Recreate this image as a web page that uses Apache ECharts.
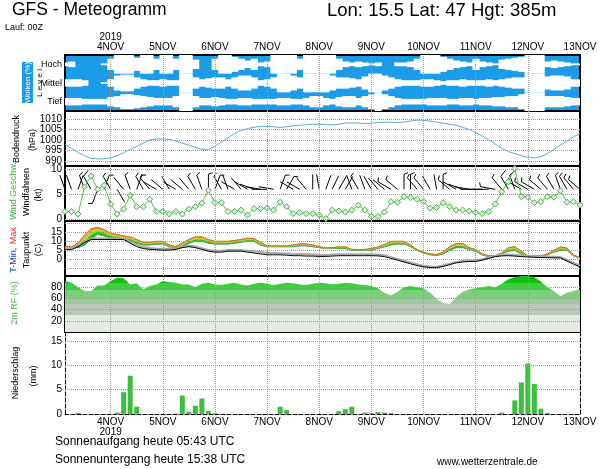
<!DOCTYPE html>
<html><head><meta charset="utf-8">
<script src="https://cdn.jsdelivr.net/npm/echarts@6/dist/echarts.min.js"></script>
<style>html,body{margin:0;padding:0;background:#fff}#c{width:600px;height:469px}</style>
</head><body><div id="c"></div>
<script>
// forecast hours after 3NOV2019 00Z (3-hourly)
const hours = [3,6,9,12,15,18,21,24, 27,30,33,36,39,42,45,48, 51,54,57,60,63,66,69,72, 75,78,81,84,87,90,93,96,
  99,102,105,108,111,114,117,120, 123,126,129,132,135,138,141,144, 147,150,153,156,159,162,165,168,
  171,174,177,180,183,186,189,192, 195,198,201,204,207,210,213,216, 219,222,225,228,231,234,237,240];
const dayTicks = [24,48,72,96,120,144,168,192,216,240];
const dayNames = ['4NOV','5NOV','6NOV','7NOV','8NOV','9NOV','10NOV','11NOV','12NOV','13NOV'];

// cloud cover (%) high / mid / low
const cloudHigh = [20,30,0,0,0,0,10,60, 100,100,100,70,100,100,60,100, 100,60,100,100,50,0,0,60,
  100,100,80,60,40,60,20,30, 100,100,100,100,60,100,100,100, 100,100,60,30,20,30,20,10,
  20,0,0,20,20,30,60,100, 100,100,80,60,40,30,20,60, 30,20,10,50,60,70,80,100, 100,100,30,40,30,20,10,10];
const cloudMid = [40,40,40,30,0,0,10,40, 80,90,90,60,40,30,30,40, 30,30,100,100,60,40,50,60,
  60,40,60,80,80,60,30,40, 60,100,100,80,60,100,100,100, 100,80,60,60,50,40,70,100,
  100,80,60,40,30,30,30,40, 40,30,20,30,30,40,30,30, 30,40,30,40,50,60,60,100, 100,100,70,80,80,70,40,40];
const cloudLow = [40,40,40,30,30,30,30,50, 60,80,80,70,60,50,40,40, 40,60,100,100,60,40,40,50,
  40,30,30,40,40,30,30,30, 30,40,40,30,30,40,60,60, 40,30,50,60,60,40,60,80,
  100,80,60,40,30,30,30,30, 40,40,40,30,30,40,40,30, 40,40,50,50,60,60,80,100, 100,100,60,60,60,50,40,40];

// surface pressure (hPa)
const pressure = [998,996,994,992.5,991.2,991,991,991.5, 992.5,994,995.5,997,998.5,1000,1000.5,1000.5,
  1000.3,999.5,998.5,997.5,996.5,995.5,995.5,997, 999,1001,1003,1004.5,1005.5,1006,1006.5,1006.5,
  1006.3,1006,1006.3,1006.8,1007,1007.3,1007.5,1007.5, 1007.3,1007.2,1007.5,1008,1008.2,1008,1007.8,1008,
  1008.3,1008.5,1008.5,1008.3,1008.5,1009,1009.5,1009.3, 1009,1008.5,1008,1007.5,1007,1006,1005,1003.5,
  1002,1000,998,996,994.5,993.5,992.5,991.8, 991.5,992,993.5,995.5,997.5,999.5,1001.5,1003];

// wind speed (kt) and direction (deg, from)
const windSpeed = [1.5,1.5,1.0,6.5,8.7,6.0,6.8,3.0, 1.0,2.0,4.8,2.5,2.5,4.0,1.5,1.5,
  1.0,1.5,1.0,2.0,2.5,3.2,5.8,3.3, 3.3,1.5,1.5,1.8,0.8,2.1,2.1,2.2,
  1.8,3.4,2.5,1.1,1.3,1.1,1.1,0.8, 0.1,1.8,1.6,1.4,1.8,2.8,1.8,0.5,
  0.5,1.4,3.5,3.4,4.5,4.3,4.0,3.5, 2.2,2.3,3.3,2.5,1.8,1.8,1.6,1.3,
  1.1,1.5,3.0,5.5,7.5,10.2,4.5,4.4, 3.3,3.5,4.5,4.4,5.7,3.4,3.5,2.8];
const windDir = [340,340,20,340,330,200,20,330, 150,320,340,20,330,320,300,310,
  330,300,310,320,330,340,0,20, 330,340,300,320,300,290,280,270,
  280,20,30,300,300,320,0,350, 20,25,30,30,340,330,340,330,
  320,310,300,310,0,0,320,320, 330,350,0,310,300,290,280,270,
  270,270,280,320,330,340,300,300, 300,310,320,330,340,330,320,310];

// temperature (C)
const tMax = [7,7,9,13.5,17,17.8,16.5,14.5, 13.8,13,12.5,11,9.5,9.5,10,10, 8,7,9,11,12.5,12.5,11,10,
  10,10,10.5,11,11.8,11.5,9.5,7.5, 7.5,7.5,7.5,8,8.6,8.5,8,7, 6.3,6.5,6.9,6.9,5.5,5.4,5.5,6,
  6.9,8.2,10,10,10,8,5.4,4, 3,2.6,4,7,8.8,8.8,6.5,5.4, 3,1.9,2,3.5,6.5,7,4.5,1.9, 1.9,2,3,5,6.9,6.3,2.5,0.8];
const tMin = [6.5,6.5,6.5,8,11,14,13,12, 11.5,11,10.5,9,8,8,8.5,8.5, 7,6.5,7,9,10,10,9,8.5,
  8.5,8.5,9,9.5,10,10,8,7, 7,7,7,7,7.5,7.5,7,6.5, 6,6,6,6,5,5,5,5,
  6,7,8,8.5,8.5,7,5,3.5, 2.5,2.2,3,5,6.5,6.5,5.5,4.5, 2.5,1.5,1.5,3,4.5,5,3,1.5, 1.5,1.5,2.5,4,5,5,2,0.5];
const tGray = [6.3,6.3,7.5,10,11.5,11.5,11.5,11.5, 11.5,11.5,10,8,6.8,6.3,6,5.8, 5.8,6.2,7,7.6,7.2,6.2,5.2,4.8,
  4.8,5.2,5.2,5.2,4.8,4.4,4,3.5, 3.5,3.4,3.2,3,2.9,2.8,2.6,2.4, 2.4,2.6,2.8,2.8,2.8,2.8,2.8,2.8,
  2.6,2.2,1.2,0.2,-0.8,-1.8,-2.8,-3.6, -4,-4.2,-3.5,-2.5,-1.5,-1,-0.7,-0.6, 0,1,2,2.5,2.6,2.4,2.1,1.9, 1.7,1.6,1.5,1.4,1.3,-0.4,-2,-3.6];
const dewPoint = [5.4,5.4,7,9.5,11,11,11,11, 11,11,9,7,6,5.5,5.3,5.1, 5.1,5.5,6.5,7,6.5,5.5,4.5,4,
  4,4.5,4.5,4.5,4,3.5,3,2.5, 2.5,2.5,2.3,2,2,1.8,1.8,1.6, 1.6,1.8,2,2,2,2,2,2,
  1.9,1.5,0.5,-0.5,-1.5,-2.5,-3.5,-4.2, -4.6,-4.7,-4,-3,-2,-1.5,-1.2,-1.2, -0.5,0.5,1.5,1.9,2,1.8,1.5,1.3, 1.1,1.0,0.9,0.8,0.7,-1,-2.7,-4.3];

// relative humidity 2m (%)
const rh = [91,88,80,73,73,83,83,91, 97,96,85,87,76,82,85,91, 89,88,85,85,80,86,88,85,
  84,86,88,85,83,86,88,86, 84,86,88,87,85,84,86,88, 87,85,86,88,87,85,84,82,
  78,70,65,72,80,82,80,78, 70,60,52,50,62,72,76,78, 80,82,80,86,94,98,100,100, 98,90,80,73,64,70,73,76];

// precipitation (mm / 3h)
const precip = [0,0,0.2,0,0,0,0,0, 0.3,4.5,7.9,1.5,0,0,0,0, 0,0.1,3.8,0.5,1.7,3.2,0.6,0.2,
  0,0,0,0,0,0,0,0, 0,1.5,0.8,0,0,0,0,0, 0,0,0.6,1.0,1.5,0,0.3,0.2,
  0.4,0.3,0.2,0,0,0,0,0, 0,0,0,0,0,0,0,0, 0,0,0,0.3,0,2.8,6.5,10.4, 6.2,1.1,0.2,0,0,0,0,0];

const pTicks = [990,995,1000,1005,1010];
const wTicks = [0,5,10];
const tTicks = [-5,0,5,10,15,20];
const rhTicks = [20,40,60,80];
const prTicks = [0,5,10,15];

const FONT = 'Liberation Sans';
const L = 65, R = 20;
const panels = [
  {top:55, h:56}, {top:111, h:55}, {top:166, h:55}, {top:221, h:55}, {top:276, h:56}, {top:332, h:82}
];
const grids = panels.map((p,i)=>({left:L, right:R, top:p.top, height:p.h, show:i<5,
  borderColor:'#000', borderWidth:2, backgroundColor: i===0 ? '#1c9ce8' : 'transparent', z:0}));

function dayLabel(v, top){
  const k = dayTicks.indexOf(v);
  const n = dayNames[k];
  if (v===24) return top ? '2019\n'+n : n+'\n2019';
  return n;
}
const xAxes = panels.map((p,i)=>({gridIndex:i, type:'value', min:3, max:240,
  position: i===0 ? 'top' : 'bottom',
  axisLine:{show:i===5, lineStyle:{color:'#000', type:'dashed', width:1}},
  axisTick:{show:false}, splitLine:{show:false},
  axisLabel:{show:i===0||i===5, customValues:dayTicks, fontFamily:FONT, fontSize:10, color:'#000',
    margin:3, lineHeight:10, formatter:(v)=>dayLabel(v, i===0)}}));

function yax(i, min, max, ticks){
  return {gridIndex:i, type:'value', min:min, max:max, splitLine:{show:false},
    axisLine:{show:false}, axisTick:{show:false},
    axisLabel:{show:!!ticks, customValues:ticks||[], fontFamily:FONT, fontSize:10, color:'#000', margin:3,
      formatter:(v)=>String(v)}};
}
const yAxes = [
  yax(0,0,3,null), yax(1,987.6,1013.8,pTicks), yax(2,-0.4,10.7,wTicks), yax(3,-9.3,21.3,tTicks),
  yax(4,0,100,rhTicks), yax(5,0,16.9,prTicks)
];
yAxes[5].axisLine = {show:true, lineStyle:{color:'#000', type:'dashed', width:1}};
yAxes.push({gridIndex:5, type:'value', min:0, max:16.9, position:'right', axisLabel:{show:false},
  axisTick:{show:false}, splitLine:{show:false}, axisLine:{show:true, lineStyle:{color:'#000', type:'dashed', width:1}}});

const dotted = {type:'dotted', color:'#9a9a9a', width:1};
function gridLines(yTicks){
  const d = dayTicks.slice(0,9).map(v=>({xAxis:v}));
  (yTicks||[]).forEach(v=>d.push({yAxis:v}));
  return {silent:true, symbol:'none', label:{show:false}, lineStyle:dotted, animation:false, data:d};
}
const pairs = arr => hours.map((h,i)=>[h, arr[i]]);

const series = [];
// clouds
const cloudData = [];
hours.forEach((h,i)=>{ cloudData.push([h,2,cloudHigh[i]]); cloudData.push([h,1,cloudMid[i]]); cloudData.push([h,0,cloudLow[i]]); });
series.push({type:'custom', xAxisIndex:0, yAxisIndex:0, clip:true, data:cloudData,
  renderItem:(params, api)=>{
    const t=api.value(0), lev=api.value(1), c=api.value(2);
    if (c<=0) return null;
    const a=api.coord([t-1.5, lev+0.5+c/200]);
    const b=api.coord([t+1.5, lev+0.5-c/200]);
    return {type:'rect', shape:{x:a[0], y:a[1], width:b[0]-a[0]+0.6, height:b[1]-a[1]}, style:{fill:'#fff'}};
  }});
series.push({type:'line', xAxisIndex:0, yAxisIndex:0, data:[[3,-5]], symbol:'none', lineStyle:{opacity:0},
  markLine:gridLines(null), z:5});
// pressure
series.push({type:'line', xAxisIndex:1, yAxisIndex:1, data:pairs(pressure), symbol:'none',
  lineStyle:{color:'#5aaed2', width:1}, markLine:gridLines(pTicks)});
// wind barbs
const BARB_Y = 6;
series.push({type:'custom', xAxisIndex:2, yAxisIndex:2, data:hours.map((h,i)=>[h,windDir[i],windSpeed[i]]),
  renderItem:(params, api)=>{
    const t=api.value(0), dir=api.value(1)*Math.PI/180, s=api.value(2);
    const p=api.coord([t, BARB_Y]);
    const len=15;
    const ux=Math.sin(dir), uy=-Math.cos(dir);
    const ex=p[0]+ux*len, ey=p[1]+uy*len;
    const ch=[{type:'line', shape:{x1:p[0], y1:p[1], x2:ex, y2:ey}, style:{stroke:'#000', lineWidth:1}}];
    const bx=-uy, by=ux;
    if (s>=2.5){
      const bl = s>=7.5 ? 7 : 4;
      ch.push({type:'line', shape:{x1:ex, y1:ey, x2:ex+bx*bl+ux*bl*0.4, y2:ey+by*bl+uy*bl*0.4}, style:{stroke:'#000', lineWidth:1}});
    }
    return {type:'group', children:ch};
  }, z:3});
series.push({type:'line', xAxisIndex:2, yAxisIndex:2, data:pairs(windSpeed),
  symbol:'diamond', symbolSize:6, lineStyle:{color:'#5cb85c', width:1},
  itemStyle:{color:'#d6f2d6', borderColor:'#4cae4c', borderWidth:1}, markLine:gridLines(wTicks), z:4});
// temperature
series.push({type:'line', xAxisIndex:3, yAxisIndex:3, data:pairs(tMin), symbol:'none',
  lineStyle:{color:'#6a4fd0', width:1}, z:2, markLine:gridLines(tTicks)});
// band between T-Min and T-Max, shaded green -> yellow -> orange from bottom to top
const bandData = hours.slice(0,-1).map((h,i)=>[h, tMin[i], tMax[i], hours[i+1], tMin[i+1], tMax[i+1]]);
const bandFr = [0, 0.45, 0.8, 1];
const bandCol = ['#22c322', '#bfd23a', '#e8a030'];
series.push({type:'custom', xAxisIndex:3, yAxisIndex:3, data:bandData, encode:{x:[0,3], y:[1,2,4,5]},
  renderItem:(params, api)=>{
    const h0=api.value(0), a0=api.value(1), b0=api.value(2), h1=api.value(3), a1=api.value(4), b1=api.value(5);
    const ch=[];
    for (let k=0;k<3;k++){
      const pts=[api.coord([h0, a0+(b0-a0)*bandFr[k]]), api.coord([h1, a1+(b1-a1)*bandFr[k]]),
        api.coord([h1, a1+(b1-a1)*bandFr[k+1]]), api.coord([h0, a0+(b0-a0)*bandFr[k+1]])];
      ch.push({type:'polygon', shape:{points:pts}, style:{fill:bandCol[k], stroke:bandCol[k], lineWidth:0.6}});
    }
    return {type:'group', children:ch};
  }, z:3});
series.push({type:'line', xAxisIndex:3, yAxisIndex:3, data:pairs(tMax), symbol:'none',
  lineStyle:{color:'#c8702a', width:1}, z:4});
series.push({type:'line', xAxisIndex:3, yAxisIndex:3, data:pairs(tGray), symbol:'none',
  lineStyle:{color:'#a8a8a8', width:2}, z:4});
series.push({type:'line', xAxisIndex:3, yAxisIndex:3, data:pairs(dewPoint), symbol:'none',
  lineStyle:{color:'#000', width:1}, z:5});
// humidity
series.push({type:'line', xAxisIndex:4, yAxisIndex:4, data:pairs(rh), symbol:'none',
  lineStyle:{width:0}, areaStyle:{opacity:1, color:{type:'linear', x:0, y:276, x2:0, y2:332, global:true, colorStops:[
    {offset:0, color:'#10c210'},{offset:0.12, color:'#10c210'},{offset:0.12, color:'#3fcb3f'},{offset:0.25, color:'#3fcb3f'},
    {offset:0.25, color:'#7ccf7c'},{offset:0.4, color:'#7ccf7c'},{offset:0.4, color:'#9fc89f'},{offset:0.5, color:'#9fc89f'},
    {offset:0.5, color:'#bac8ba'},{offset:0.7, color:'#bac8ba'},{offset:0.7, color:'#e3ece3'},{offset:1, color:'#e3ece3'}]}},
  markLine:gridLines(rhTicks), z:3});
// precipitation
series.push({type:'bar', xAxisIndex:5, yAxisIndex:5, data:pairs(precip), barWidth:5,
  itemStyle:{color:'#3cbf3c'}, markLine:gridLines(prTicks.slice(1))});

function vtext(txt, x, y, color, size){
  return {type:'text', x:x, y:y, rotation:Math.PI/2, style:{text:txt, fill:color||'#000', font:(size||9)+'px '+FONT,
    align:'center', verticalAlign:'middle'}};
}
const graphic = [
  {type:'text', left:12, top:1, style:{text:'GFS - Meteogramm', font:'17.5px '+FONT, fill:'#000'}},
  {type:'text', left:327, top:1, style:{text:'Lon: 15.5 Lat: 47 Hgt: 385m', font:'18.5px '+FONT, fill:'#000'}},
  {type:'text', left:5, top:23, style:{text:'Lauf: 00Z', font:'9px '+FONT, fill:'#000'}},
  {type:'rect', shape:{x:22, y:62, width:11, height:41}, style:{fill:'#1c9ce8'}},
  vtext('Wolken (%)', 27.5, 82.5, '#fff', 8),
  vtext('L e v e l', 40, 83, '#000', 8),
  {type:'text', x:62, y:65, style:{text:'Hoch', font:'9px '+FONT, fill:'#000', align:'right', verticalAlign:'middle'}},
  {type:'text', x:62, y:83.5, style:{text:'Mittel', font:'9px '+FONT, fill:'#000', align:'right', verticalAlign:'middle'}},
  {type:'text', x:62, y:101.5, style:{text:'Tief', font:'9px '+FONT, fill:'#000', align:'right', verticalAlign:'middle'}},
  vtext('Bodendruck', 17, 139), vtext('(hPa)', 33, 140),
  vtext('Wind Geschw.', 14, 191, '#44b044'), vtext('Windfahnen', 27, 192), vtext('(kt)', 39, 195),
  {type:'text', x:14, y:250, rotation:Math.PI/2, style:{rich:{b:{fill:'#2040d0', font:'9px '+FONT}, r:{fill:'#e03020', font:'9px '+FONT}},
    text:'{b|T-Min,} {r|Max}', align:'center', verticalAlign:'middle'}},
  vtext('Taupunkt', 27, 250), vtext('(C)', 39, 250),
  vtext('2m RF (%)', 15, 303, '#44b044'),
  vtext('Niederschlag', 16, 373), vtext('(mm)', 34, 376),
  {type:'text', left:55, top:436, style:{text:'Sonnenaufgang heute 05:43 UTC', font:'12px '+FONT, fill:'#000'}},
  {type:'text', left:55, top:454, style:{text:'Sonnenuntergang heute 15:38 UTC', font:'12px '+FONT, fill:'#000'}},
  {type:'text', left:437, top:457, style:{text:'www.wetterzentrale.de', font:'10px '+FONT, fill:'#000'}}
];

const chart = echarts.init(document.getElementById('c'), null, {renderer:'canvas'});
chart.setOption({animation:false, backgroundColor:'#fff', grid:grids, xAxis:xAxes, yAxis:yAxes, series:series, graphic:graphic});
</script></body></html>
